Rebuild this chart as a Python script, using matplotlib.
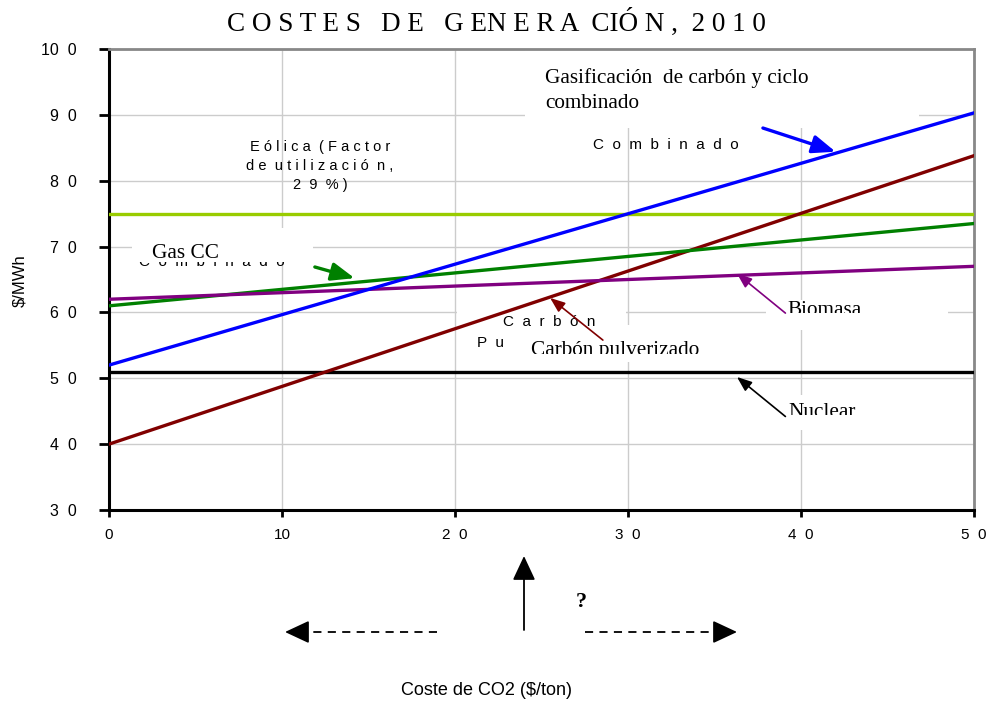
import matplotlib
matplotlib.use('Agg')
import matplotlib.pyplot as plt
from matplotlib.patches import Rectangle, FancyArrowPatch
from matplotlib.lines import Line2D
from matplotlib.transforms import Bbox, TransformedBbox

# data: CO2 cost ($/ton) at the two ends, generation cost ($/MWh)
x = [0, 50]
gasif = [52, 90.3]       # gasificacion de carbon y ciclo combinado
carbon = [40, 83.8]      # carbon pulverizado
gascc = [61, 73.5]       # gas ciclo combinado
biomasa = [62, 67]
eolica = [75, 75]
nuclear = [51, 51]

xticks = [0, 10, 20, 30, 40, 50]
xtick_labels = ['0', '10', '2  0', '3  0', '4  0', '5  0']
yticks = [30, 40, 50, 60, 70, 80, 90, 100]
ytick_labels = ['3  0', '4  0', '5  0', '6  0', '7  0', '8  0', '9  0', '10  0']

serif = 'Liberation Serif'
sans = 'Liberation Sans'

fig = plt.figure(figsize=(9.87, 7.02), dpi=100)
ax = fig.add_axes([0.1104, 0.2735, 0.8764, 0.6567])

#lines
ax.plot(x, eolica, color='#99cc00', lw=2.4, zorder=3)
ax.plot(x, nuclear, color='black', lw=2.4, zorder=3)
ax.plot(x, carbon, color='#800000', lw=2.4, zorder=3)
ax.plot(x, gascc, color='#008000', lw=2.4, zorder=3)
ax.plot(x, biomasa, color='#800080', lw=2.4, zorder=3)
ax.plot(x, gasif, color='#0000ff', lw=2.4, zorder=3)

ax.set_xlim(0, 50)
ax.set_ylim(30, 100)
ax.set_xticks(xticks)
ax.set_xticklabels(xtick_labels, fontfamily=sans, fontsize=11)
ax.set_yticks(yticks)
ax.set_yticklabels(ytick_labels, fontfamily=sans, fontsize=11.5)
ax.tick_params(axis='y', direction='out', length=7, width=2, pad=16, color='black')
ax.tick_params(axis='x', direction='out', length=5, width=2, pad=8, color='black')
ax.grid(True, color='#cccccc', lw=1, zorder=0)
ax.set_axisbelow(True)

for s in ['left', 'bottom']:
    ax.spines[s].set_color('black')
    ax.spines[s].set_linewidth(2.2)
for s in ['top', 'right']:
    ax.spines[s].set_color('#888888')
    ax.spines[s].set_linewidth(2)

#title and axis labels
fig.text(0.503, 0.968, 'C O S T E S   D E   G EN E R A  CIÓ N ,  2 0 1 0',
         ha='center', va='center', fontfamily=serif, fontsize=19.5)
ax.set_ylabel('\\$/MWh', fontfamily=sans, fontsize=12)
ax.yaxis.set_label_coords(-0.095, 0.497)
fig.text(0.493, 0.017, 'Coste de CO2 ($/ton)', ha='center', va='center',
         fontfamily=sans, fontsize=13)

#white boxes of the labels (they hide the grid)
masks = [(24.05, 88.0, 46.8, 100.0),
         (1.33, 67.7, 11.8, 72.85),
         (20.1, 59.2, 29.9, 61.2),
         (23.8, 52.5, 34.2, 58.1),
         (38.0, 57.4, 48.5, 61.9),
         (38.0, 42.2, 48.5, 47.5)]
for (x0, y0, x1, y1) in masks:
    ax.add_patch(Rectangle((x0, y0), x1 - x0, y1 - y0, fc='white', ec='none', zorder=1.5))

def clipped(t, ymin):
    bb = Bbox([[0, ymin], [50, 100]])
    t.set_clip_box(TransformedBbox(bb, ax.transData))
    t.set_clip_on(True)

#text labels inside the chart
ax.text(27.98, 85.4, 'C  o  m  b  i  n  a  d  o', fontfamily=sans, fontsize=11,
        ha='left', va='center', zorder=4)
ax.text(25.2, 94.77, 'Gasificación  de carbón y ciclo', fontfamily=serif, fontsize=15.3,
        ha='left', va='baseline', zorder=5)
ax.text(25.2, 91.05, 'combinado', fontfamily=serif, fontsize=15.3,
        ha='left', va='baseline', zorder=5)
ax.text(12.2, 82.25, 'E ó l i c a  ( F a c t o r\nd e  u t i l i z a c i ó  n ,\n2  9  % )',
        fontfamily=sans, fontsize=10.5, ha='center', va='center', linespacing=1.45, zorder=4)

ax.text(1.74, 67.6, 'C  o  m  b  i  n  a  d  o', fontfamily=sans, fontsize=11,
        ha='left', va='center', zorder=1.2)
ax.text(2.49, 68.3, 'Gas CC', fontfamily=serif, fontsize=15.3, ha='left',
        va='baseline', zorder=5)

ax.text(22.8, 58.6, 'C  a  r  b  ó  n', fontfamily=sans, fontsize=11, ha='left', va='center', zorder=4)
ax.text(21.3, 55.4, 'P  u', fontfamily=sans, fontsize=11, ha='left', va='center', zorder=4)
t = ax.text(24.4, 53.57, 'Carbón pulverizado', fontfamily=serif, fontsize=15.3,
            ha='left', va='baseline', zorder=5)
clipped(t, 53.72)
t = ax.text(39.2, 59.6, 'Biomasa', fontfamily=serif, fontsize=15.3, ha='left', va='baseline', zorder=5)
clipped(t, 59.9)
t = ax.text(39.25, 44.16, 'Nuclear', fontfamily=serif, fontsize=15.3, ha='left', va='baseline', zorder=5)
clipped(t, 44.4)

#arrows
def arrow(x0, y0, x1, y1, color, lw, hw, hl):
    ax.annotate('', xy=(x1, y1), xytext=(x0, y0), zorder=6,
                arrowprops=dict(arrowstyle='-|>,head_width=%s,head_length=%s' % (hw, hl),
                                color=color, lw=lw, shrinkA=0, shrinkB=0))

arrow(37.8, 88.0, 42.0, 84.4, '#0000ff', 2.4, 0.55, 1.4)
arrow(11.9, 66.9, 14.2, 65.2, '#008000', 2.4, 0.55, 1.4)
arrow(28.55, 55.8, 25.5, 62.2, '#800000', 1.2, 0.35, 0.9)
arrow(39.1, 59.9, 36.3, 65.9, '#800080', 1.2, 0.35, 0.9)
arrow(39.1, 44.2, 36.3, 50.2, 'black', 1.2, 0.35, 0.9)

#question below the axis (figure pixels, origin bottom left)
fig.text(0.589, 0.142, '?', fontfamily=serif, fontsize=16, fontweight='bold',
         ha='center', va='center')
head = '-|>,head_width=7,head_length=15'
fig.add_artist(FancyArrowPatch((524, 72), (524, 146), transform=None, arrowstyle=head,
                               color='black', lw=1.3, mutation_scale=1, shrinkA=0, shrinkB=0))
for (x0, x1, x2) in [(437, 300, 285), (585, 722, 737)]:
    fig.add_artist(Line2D([x0, x1], [70, 70], transform=None, color='black', lw=1.3,
                          linestyle=(0, (4.5, 3.5))))
    fig.add_artist(FancyArrowPatch((x1, 70), (x2, 70), transform=None, arrowstyle=head,
                                   color='black', lw=1.3, mutation_scale=1, shrinkA=0, shrinkB=0))

fig.savefig('out.png', dpi=100)
